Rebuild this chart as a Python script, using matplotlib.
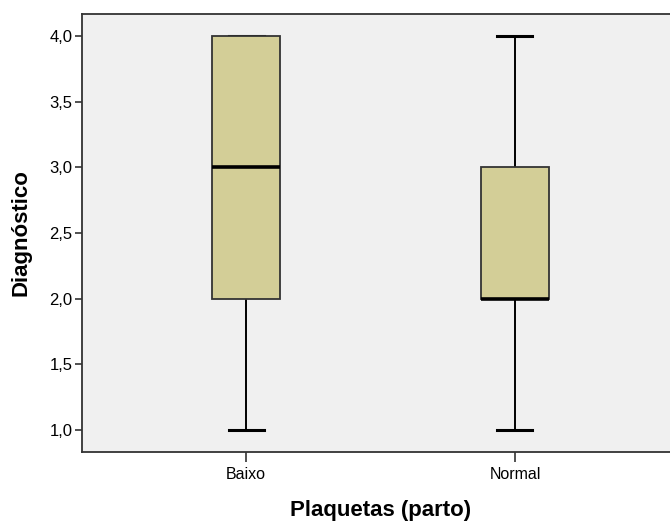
import matplotlib
matplotlib.use('Agg')
import matplotlib.pyplot as plt

plt.rcParams['font.family'] = ['Liberation Sans', 'DejaVu Sans']

# data
categories = ['Baixo', 'Normal']
mins = [1.0, 1.0]
q1s = [2.0, 2.0]
medians = [3.0, 2.0]
q3s = [4.0, 3.0]
maxs = [4.0, 4.0]
yticks = [1.0, 1.5, 2.0, 2.5, 3.0, 3.5, 4.0]
ytick_labels = ['1,0', '1,5', '2,0', '2,5', '3,0', '3,5', '4,0']

stats = []
for i in range(len(categories)):
    stats.append({'label': categories[i], 'whislo': mins[i], 'q1': q1s[i],
                  'med': medians[i], 'q3': q3s[i], 'whishi': maxs[i], 'fliers': []})

fig = plt.figure(figsize=(6.7, 5.21), dpi=100)
ax = fig.add_axes([82/670, 1 - 452/521, 597/670, 438/521])
ax.set_facecolor('#f0f0f0')

ax.bxp(stats, positions=range(len(categories)), widths=0.25, patch_artist=True,
       showfliers=False,
       boxprops=dict(facecolor='#d3ce97', edgecolor='#333333', linewidth=1.3, zorder=3),
       medianprops=dict(color='black', linewidth=2.6, zorder=4),
       whiskerprops=dict(color='black', linewidth=1.4, zorder=2),
       capprops=dict(color='black', linewidth=2.2, zorder=2),
       capwidths=0.13)

ax.set_xlim(-0.61, 1.61)
ax.set_ylim(0.833, 4.167)
ax.set_yticks(yticks)
ax.set_yticklabels(ytick_labels)
ax.set_xticks(range(len(categories)))
ax.set_xticklabels(categories)

for s in ax.spines.values():
    s.set_color('#333333')
    s.set_linewidth(1.3)
ax.tick_params(axis='y', length=5, width=1.2, color='#333333', labelsize=12, pad=2)
ax.tick_params(axis='x', length=7, width=1.2, color='#333333', labelsize=11.5, pad=4)

ax.set_ylabel('Diagnóstico', fontsize=16, fontweight='bold')
ax.yaxis.set_label_coords((32 - 82) / 597, 0.5)
ax.set_xlabel('Plaquetas (parto)', fontsize=16, fontweight='bold')
ax.xaxis.set_label_coords(0.5, (452 - 500) / 438)

fig.savefig('out.png', dpi=100)
